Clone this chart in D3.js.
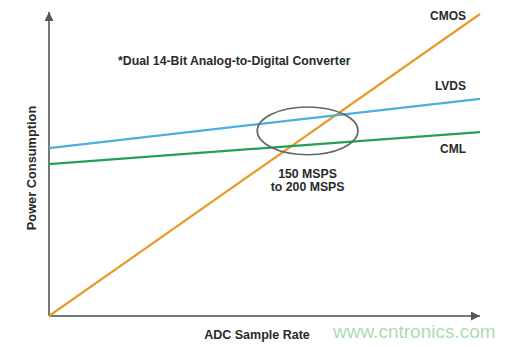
<!DOCTYPE html>
<html>
<head>
<meta charset="utf-8">
<script src="https://cdn.jsdelivr.net/npm/d3@7"></script>
<style>
  body { margin: 0; background: #fff; }
  text { font-family: "Liberation Sans", Arial, sans-serif; font-weight: bold; fill: #2a2a2a; }
</style>
</head>
<body>
<div id="chart"></div>
<script>
// Chart data (arbitrary units, relative)
var seriesNames = ['CMOS', 'LVDS', 'CML'];
var rateStart = [0, 0, 0];
var rateEnd = [10, 10, 10];
var powerStart = [0, 55.6, 50.3];
var powerEnd = [100, 71.9, 60.9];
var seriesColors = ['#e89a2c', '#4ab0dc', '#22a05a'];
var labelPower = [98, 75, 54];

// Crossover region
var regionCenter = [6.0, 61.3];
var regionRadius = [1.17, 7.9];
var regionLabels = ['150 MSPS', 'to 200 MSPS'];

var chartTitle = '*Dual 14-Bit Analog-to-Digital Converter';
var xTitle = 'ADC Sample Rate';
var yTitle = 'Power Consumption';

// Dimensions
var width = 517, height = 347;
var margin = {top: 14, right: 37, bottom: 31, left: 49};

var x = d3.scaleLinear().domain([0, 10]).range([margin.left, width - margin.right]),
    y = d3.scaleLinear().domain([0, 100]).range([height - margin.bottom, margin.top]);

var svg = d3.select('#chart')
    .append('svg')
    .attr('width', width)
    .attr('height', height);

// Arrow marker for axes
svg.append('defs').append('marker')
    .attr('id', 'arrow')
    .attr('viewBox', '0 0 10 10')
    .attr('refX', 10)
    .attr('refY', 5)
    .attr('markerWidth', 7)
    .attr('markerHeight', 4.5)
    .attr('markerUnits', 'strokeWidth')
    .attr('orient', 'auto')
    .append('path')
    .attr('d', 'M0,0 L10,5 L0,10 Z')
    .attr('fill', '#555');

// Axes
var axisColor = '#777';
svg.append('line')
    .attr('x1', x(0)).attr('y1', y(0))
    .attr('x2', x(0)).attr('y2', y(100) - 2)
    .attr('stroke', axisColor)
    .attr('stroke-width', 2)
    .attr('marker-end', 'url(#arrow)');
svg.append('line')
    .attr('x1', x(0)).attr('y1', y(0))
    .attr('x2', x(10)).attr('y2', y(0))
    .attr('stroke', axisColor)
    .attr('stroke-width', 2)
    .attr('marker-end', 'url(#arrow)');

// Series lines
var line = d3.line()
    .x(function(d) { return x(d[0]); })
    .y(function(d) { return y(d[1]); });

seriesNames.forEach(function(name, i) {
    svg.append('path')
        .attr('fill', 'none')
        .attr('stroke', seriesColors[i])
        .attr('stroke-width', 2.2)
        .attr('d', line([[rateStart[i], powerStart[i]], [rateEnd[i], powerEnd[i]]]));

    svg.append('text')
        .attr('x', x(10) - 14)
        .attr('y', y(labelPower[i]))
        .attr('text-anchor', 'end')
        .attr('font-size', 12)
        .text(name);
});

// Crossover ellipse
svg.append('ellipse')
    .attr('cx', x(regionCenter[0]))
    .attr('cy', y(regionCenter[1]))
    .attr('rx', x(regionRadius[0]) - x(0))
    .attr('ry', y(0) - y(regionRadius[1]))
    .attr('fill', 'none')
    .attr('stroke', '#666')
    .attr('stroke-width', 1.6);

svg.selectAll('.region-label')
    .data(regionLabels)
    .enter()
    .append('text')
    .attr('class', 'region-label')
    .attr('x', x(regionCenter[0]))
    .attr('y', function(d, i) { return 178 + i * 13; })
    .attr('text-anchor', 'middle')
    .attr('font-size', 12.3)
    .text(function(d) { return d; });

// Titles
svg.append('text')
    .attr('x', 118)
    .attr('y', 65)
    .attr('font-size', 12.3)
    .text(chartTitle);

svg.append('text')
    .attr('x', 257)
    .attr('y', 339)
    .attr('text-anchor', 'middle')
    .attr('font-size', 12.5)
    .text(xTitle);

svg.append('text')
    .attr('transform', 'translate(36,168) rotate(-90)')
    .attr('text-anchor', 'middle')
    .attr('font-size', 12.8)
    .text(yTitle);

// Watermark
svg.append('text')
    .attr('x', 333)
    .attr('y', 338)
    .attr('font-size', 19)
    .style('font-weight', 'normal')
    .style('fill', '#abdcae')
    .text('www.cntronics.com');
</script>
</body>
</html>
